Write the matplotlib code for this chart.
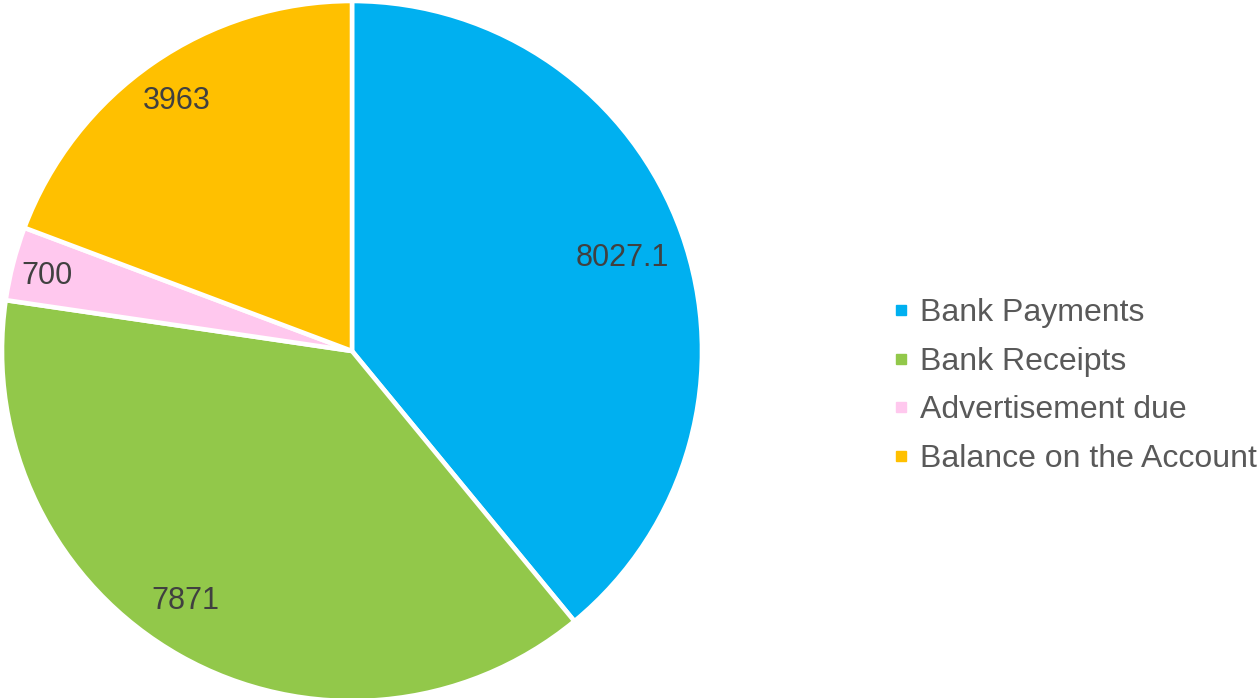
import matplotlib
matplotlib.use("Agg")
import matplotlib.pyplot as plt
from matplotlib.lines import Line2D
import numpy as np

categories = ["Bank Payments", "Bank Receipts", "Advertisement due", "Balance on the Account"]
values = [8027.1, 7871, 700, 3963]
value_labels = ["8027.1", "7871", "700", "3963"]
colors = ["#00B0F0", "#92C84A", "#FFC8EE", "#FFC000"]
label_dist = [0.82, 0.85, 0.90, 0.88]
label_angle_shift = [0.0, -4.5, 0.0, 0.0]

plt.rcParams['font.family'] = ['Liberation Sans', 'DejaVu Sans']

fig = plt.figure(figsize=(12.57, 6.98), dpi=100)
W, H = 1257, 698
cx, cy, r = 352, 698 - 351, 350
ax = fig.add_axes([(cx - r) / W, (cy - r) / H, 2 * r / W, 2 * r / H])
wedges, texts = ax.pie(values, labels=value_labels, colors=colors, startangle=90,
                       counterclock=False, radius=1.0, labeldistance=0.86,
                       wedgeprops=dict(edgecolor="white", linewidth=3.3),
                       textprops=dict(fontsize=22, color="#404040"))
for w, t, d, s in zip(wedges, texts, label_dist, label_angle_shift):
    ang = np.deg2rad((w.theta1 + w.theta2) / 2 + s)
    t.set_position((d * np.cos(ang), d * np.sin(ang)))
    t.set_horizontalalignment("center")
    t.set_verticalalignment("center_baseline")
ax.set_xlim(-1, 1)
ax.set_ylim(-1, 1)
ax.set_aspect("equal")
ax.axis("off")

handles = [Line2D([0], [0], marker="s", linestyle="none", markersize=7,
                  markerfacecolor=c, markeredgecolor=c) for c in colors]
leg = fig.legend(handles, categories, loc="center left",
                 bbox_to_anchor=(894 / W, 1 - 386 / H), frameon=False,
                 fontsize=23, labelcolor="#595959", handlelength=0.45,
                 handletextpad=0.35, labelspacing=0.58, borderaxespad=0,
                 borderpad=0)

fig.savefig("out.png", dpi=100)
